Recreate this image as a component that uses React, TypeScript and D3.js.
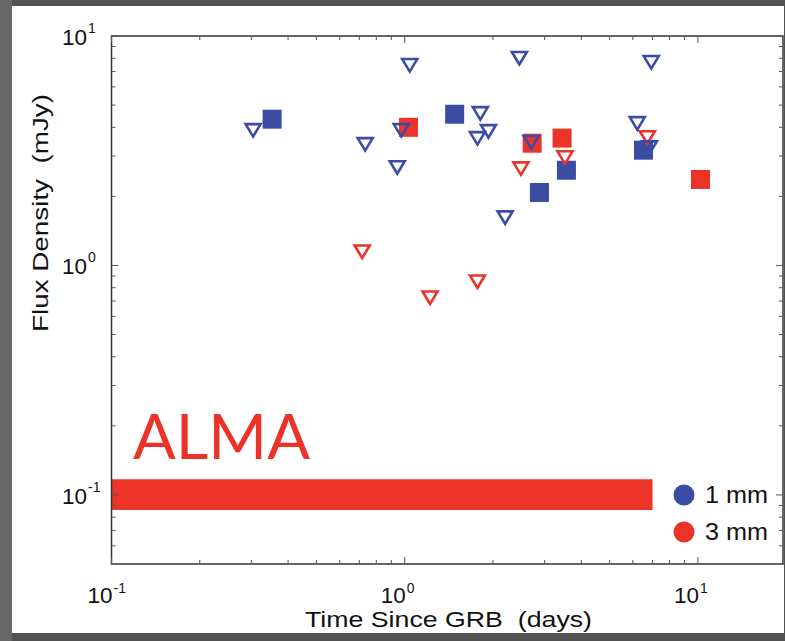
import React from 'react';
import * as d3 from 'd3';

const W = 785;
const H = 641;
const BLUE = '#3a4da3';
const RED = '#ec3327';

// detections [days, mJy]
const det1mm: [number, number][] = [
  [0.353, 4.34], [1.48, 4.56], [2.88, 2.08], [3.56, 2.6], [6.52, 3.18],
];
const det3mm: [number, number][] = [
  [1.03, 4.0], [2.72, 3.41], [3.44, 3.59], [10.2, 2.37],
];
// upper limits [days, mJy]
const lim1mm: [number, number][] = [
  [0.304, 3.89], [0.733, 3.38], [0.943, 2.68], [0.973, 3.89], [1.04, 7.47],
  [1.81, 4.61], [1.93, 3.85], [1.77, 3.59], [2.46, 8.02], [2.2, 1.62],
  [2.7, 3.45], [6.21, 4.17], [6.83, 3.27], [6.93, 7.7],
];
const lim3mm: [number, number][] = [
  [0.716, 1.15], [1.22, 0.725], [1.77, 0.851], [2.49, 2.65], [3.52, 2.96], [6.72, 3.62],
];
// ALMA sensitivity band
const almaT = [0.1, 7.0];
const almaFlux = [0.086, 0.117];

const majorTicks = [0.1, 1, 10];
const exponents = ['-1', '0', '1'];
const legendLabels = ['1 mm', '3 mm'];
const legendColors = [BLUE, RED];

const FONT = '"Liberation Sans", Arial, Helvetica, sans-serif';

const x = d3.scaleLog().domain([0.1, 19.5]).range([111.5, 783]);
const y = d3.scaleLog().domain([0.05, 10]).range([564, 36]);

const isMajor = (v: number) => majorTicks.some(m => Math.abs(v - m) < 1e-9);

function tri(cx: number, cy: number) {
  return `M${cx - 7.5},${cy - 6}L${cx + 7.5},${cy - 6}L${cx},${cy + 6.5}Z`;
}

export default function App() {
  const [x0, x1] = x.range();
  const [y0, y1] = y.range(); // y0 bottom, y1 top
  const xt = x.ticks().filter(v => v > 0.1 && v < 19.5 && !isMajor(v));
  const yt = y.ticks().filter(v => v > 0.05 && v < 10 && !isMajor(v));
  const sq = 19;

  return (
    <svg width={W} height={H} style={{ position: 'absolute', left: 0, top: 0 }}
      fontFamily={FONT}>
      <rect width={W} height={H} fill="#525252" />
      <rect x={0} y={0} width={12} height={H} fill="#676767" />
      <rect x={12} y={6} width={772} height={627} fill="#fff" />

      {/* ALMA band */}
      <rect x={x(almaT[0])} y={y(almaFlux[1])} width={x(almaT[1]) - x(almaT[0])}
        height={y(almaFlux[0]) - y(almaFlux[1])} fill={RED} />
      <text x={133} y={459} fontFamily='Lato, "Open Sans", sans-serif' fontSize={62}
        fill={RED} textLength={177} lengthAdjust="spacingAndGlyphs">ALMA</text>

      {/* squares */}
      {det1mm.map((d, i) => (
        <rect key={'b' + i} x={x(d[0]) - sq / 2} y={y(d[1]) - sq / 2} width={sq} height={sq} fill={BLUE} />
      ))}
      {det3mm.map((d, i) => (
        <rect key={'r' + i} x={x(d[0]) - sq / 2} y={y(d[1]) - sq / 2} width={sq} height={sq} fill={RED} />
      ))}
      {/* upper limits */}
      {lim3mm.map((d, i) => (
        <path key={'rt' + i} d={tri(x(d[0]), y(d[1]))} fill="none" stroke={RED} strokeWidth={2.6} strokeLinejoin="miter" />
      ))}
      {lim1mm.map((d, i) => (
        <path key={'bt' + i} d={tri(x(d[0]), y(d[1]))} fill="none" stroke={BLUE} strokeWidth={2.6} strokeLinejoin="miter" />
      ))}

      {/* box and ticks */}
      <rect x={x0} y={y1} width={x1 - x0} height={y0 - y1} fill="none" stroke="#333" strokeWidth={1.5} />
      <g stroke="#555" strokeWidth={1}>
        {xt.map(v => (
          <g key={'xt' + v}>
            <line x1={x(v)} x2={x(v)} y1={y0} y2={y0 - 4} />
            <line x1={x(v)} x2={x(v)} y1={y1} y2={y1 + 4} />
          </g>
        ))}
        {yt.map(v => (
          <g key={'yt' + v}>
            <line x1={x0} x2={x0 + 4} y1={y(v)} y2={y(v)} />
            <line x1={x1} x2={x1 - 4} y1={y(v)} y2={y(v)} />
          </g>
        ))}
        {majorTicks.map(v => (
          <g key={'mj' + v}>
            <line x1={x(v)} x2={x(v)} y1={y0} y2={y0 - 7} />
            <line x1={x(v)} x2={x(v)} y1={y1} y2={y1 + 7} />
            <line x1={x0} x2={x0 + 7} y1={y(v)} y2={y(v)} />
            <line x1={x1} x2={x1 - 7} y1={y(v)} y2={y(v)} />
          </g>
        ))}
      </g>

      {/* tick labels */}
      <g fill="#111" fontSize={22}>
        {majorTicks.map((v, i) => (
          <g key={'yl' + v}>
            <text x={87} y={y(v) + 9} textAnchor="end" textLength={25} lengthAdjust="spacingAndGlyphs">10</text>
            <text x={88} y={y(v) - 3} fontSize={14}>{exponents[i]}</text>
          </g>
        ))}
        {majorTicks.map((v, i) => (
          <g key={'xl' + v}>
            <text x={x(v) - 24} y={603} textLength={25} lengthAdjust="spacingAndGlyphs">10</text>
            <text x={x(v) + 2} y={593} fontSize={14}>{exponents[i]}</text>
          </g>
        ))}
      </g>

      {/* axis titles */}
      <text x={305} y={627} fontSize={22} fill="#111" textLength={287} lengthAdjust="spacingAndGlyphs"
        style={{ whiteSpace: 'pre' }}>Time Since GRB  (days)</text>
      <text transform={`translate(48,332) rotate(-90)`} fontSize={22} fill="#111"
        textLength={238} lengthAdjust="spacingAndGlyphs"
        style={{ whiteSpace: 'pre' }}>Flux Density  (mJy)</text>

      {/* legend */}
      {legendLabels.map((l, i) => (
        <g key={l} transform={`translate(684,${495 + i * 37})`}>
          <circle r={10.5} fill={legendColors[i]} />
          <text x={21} y={8} fontSize={23} fill="#111" textLength={63} lengthAdjust="spacingAndGlyphs"
            style={{ whiteSpace: 'pre' }}>{l}</text>
        </g>
      ))}
    </svg>
  );
}
